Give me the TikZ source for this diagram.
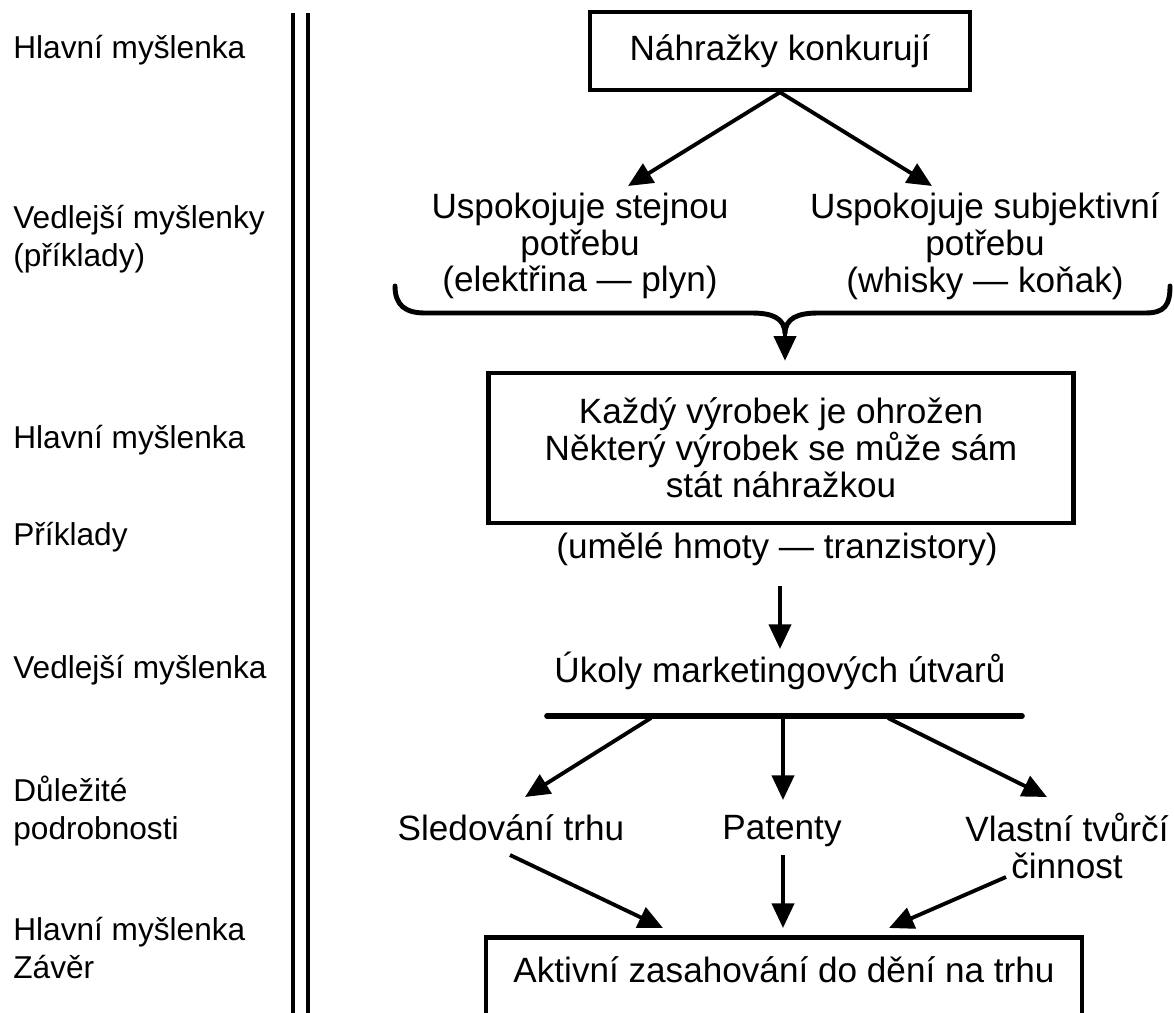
\documentclass[tikz,border=0pt]{standalone}
\usepackage{fontspec}
\setmainfont{Liberation Sans}
\usetikzlibrary{arrows.meta,calc}

\begin{document}
\begin{tikzpicture}[x=0.02cm, y=-0.02cm,
	arr/.style={line width=2.2pt, -{Triangle[length=14pt,width=12.5pt]}},
	box/.style={draw, line width=2.6pt, font=\fontsize{20}{21}\selectfont},
	txt/.style={font=\fontsize{20}{21}\selectfont, align=center},
	lab/.style={font=\fontsize{18}{21.5}\selectfont, align=left, anchor=west, inner sep=0pt}]
	\useasboundingbox (0,0) rectangle (1174,1012);
	\clip (0,0) rectangle (1174,1012);

	\node[lab] (L1) at (13,50) {Hlavní myšlenka};
	\node[lab] (L2) at (13,239) {Vedlejší myšlenky\\(příklady)};
	\node[lab] (L3) at (13,440) {Hlavní myšlenka};
	\node[lab] (L4) at (13,537) {Příklady};
	\node[lab] (L5) at (13,670) {Vedlejší myšlenka};
	\node[lab] (L6) at (13,811) {Důležité\\podrobnosti};
	\node[lab] (L7) at (13,948) {Hlavní myšlenka\\Závěr};

	\draw[line width=2.2pt] (293,13) -- (293,1015);
	\draw[line width=2.6pt] (308,13) -- (308,1015);

	\node[box, minimum width=7.6cm, minimum height=1.56cm] (top) at (780,51) {Náhražky konkurují};
	\node[txt] (need1) at (580,246) {Uspokojuje stejnou\\potřebu\\(elektřina — plyn)};
	\node[txt] (need2) at (985,246) {Uspokojuje subjektivní\\potřebu\\(whisky — koňak)};
	\node[box, align=center, minimum width=11.7cm, minimum height=3cm] (threat) at (781,448) {Každý výrobek je ohrožen\\Některý výrobek se může sám\\stát náhražkou};
	\node[txt] (ex) at (777,549) {(umělé hmoty — tranzistory)};
	\node[txt] (tasks) at (780,671) {Úkoly marketingových útvarů};
	\node[txt] (watch) at (511,828) {Sledování trhu};
	\node[txt] (pat) at (782,831) {Patenty};
	\node[txt] (own) at (1067,846) {Vlastní tvůrčí\\činnost};
	\node[box, anchor=north, minimum width=11.92cm, text height=0.78cm, text depth=1.8cm] (act) at (784,935) {Aktivní zasahování do dění na trhu};

	\draw[arr] (top.south) -- ($(need1.center)+(48,-60)$);
	\draw[arr] (top.south) -- ($(need2.center)+(-53,-60)$);

	\coordinate (tip) at (785,334);
	\draw[line width=2.8pt, line cap=round] (395,286) .. controls (395,305) and (405,313) .. (425,313) -- (752,313)
		.. controls (772,313) and (785,318) .. (tip) .. controls (785,318) and (798,313) .. (818,313)
		-- (1145,313) .. controls (1165,313) and (1170,305) .. (1170,286);
	\draw[arr] (tip) -- ($(threat.north)+(4,-10)$);

	\draw[arr] ($(ex.center)+(3,37)$) -- ($(tasks.center)+(0,-22)$);
	\draw[line width=3.2pt, line cap=round] ($(tasks.center)+(-233,45)$) -- ($(tasks.center)+(242,45)$);

	\draw[arr] ($(tasks.center)+(-129,47)$) -- ($(watch.center)+(14,-31)$);
	\draw[arr] ($(tasks.center)+(3,47)$) -- ($(pat.center)+(1,-31)$);
	\draw[arr] ($(tasks.center)+(108,47)$) -- ($(own.center)+(-20,-49)$);

	\draw[arr] ($(watch.center)+(-1,27)$) -- ($(act.north)+(-121,-7)$);
	\draw[arr] ($(pat.center)+(1,24)$) -- ($(act.north)+(-1,-7)$);
	\draw[arr] ($(own.center)+(-61,31)$) -- ($(act.north)+(105,-7)$);
\end{tikzpicture}
\end{document}
